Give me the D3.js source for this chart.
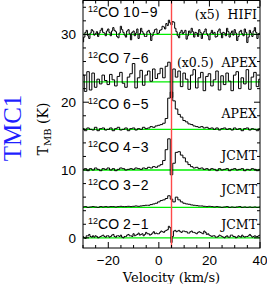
<!DOCTYPE html>
<html>
<head>
<meta charset="utf-8">
<script src="https://cdn.jsdelivr.net/npm/d3@7"></script>
<style>
  body { margin: 0; background: #fff; }
  svg { display: block; }
</style>
</head>
<body>
<div id="chart"></div>
<script>
/**
 * CONSTANTS AND GLOBALS
 * */
const width = 267,
  height = 284,
  margin = { top: 0.5, right: 7, bottom: 36, left: 83 };

/**
 * DATA
 * */
// channel velocities (km/s), 1 km/s channels
const velocity = [-30, -29, -28, -27, -26, -25, -24, -23, -22, -21,
  -20, -19, -18, -17, -16, -15, -14, -13, -12, -11,
  -10, -9, -8, -7, -6, -5, -4, -3, -2, -1,
  0, 1, 2, 3, 4, 5, 6, 7, 8, 9,
  10, 11, 12, 13, 14, 15, 16, 17, 18, 19,
  20, 21, 22, 23, 24, 25, 26, 27, 28, 29,
  30, 31, 32, 33, 34, 35, 36, 37, 38, 39, 40];

// channel velocities (km/s), 0.5 km/s channels
const velocityFine = [-30, -29.5, -29, -28.5, -28, -27.5, -27, -26.5, -26, -25.5,
  -25, -24.5, -24, -23.5, -23, -22.5, -22, -21.5, -21, -20.5,
  -20, -19.5, -19, -18.5, -18, -17.5, -17, -16.5, -16, -15.5,
  -15, -14.5, -14, -13.5, -13, -12.5, -12, -11.5, -11, -10.5,
  -10, -9.5, -9, -8.5, -8, -7.5, -7, -6.5, -6, -5.5,
  -5, -4.5, -4, -3.5, -3, -2.5, -2, -1.5, -1, -0.5,
  0, 0.5, 1, 1.5, 2, 2.5, 3, 3.5, 4, 4.5,
  5, 5.5, 6, 6.5, 7, 7.5, 8, 8.5, 9, 9.5,
  10, 10.5, 11, 11.5, 12, 12.5, 13, 13.5, 14, 14.5,
  15, 15.5, 16, 16.5, 17, 17.5, 18, 18.5, 19, 19.5,
  20, 20.5, 21, 21.5, 22, 22.5, 23, 23.5, 24, 24.5,
  25, 25.5, 26, 26.5, 27, 27.5, 28, 28.5, 29, 29.5,
  30, 30.5, 31, 31.5, 32, 32.5, 33, 33.5, 34, 34.5,
  35, 35.5, 36, 36.5, 37, 37.5, 38, 38.5, 39, 39.5, 40];

const transitions = ["10\u22129", "7\u22126", "6\u22125", "4\u22123", "3\u22122", "2\u22121"];
const telescopes = ["(x5)  HIFI", "(x0.5)  APEX", "APEX", "JCMT", "JCMT", "JCMT"];
const offsets = [30, 23, 16, 10, 4.5, 0];
const vSource = 5;

// T_MB above the baseline of each spectrum (K)
const co109 = [-1.1, -0.4, 0.3, 0.6, -0.2, -0.6, 0.2, 0.7, 0.5, -0.1,
  0.1, 0.4, -0.3, 0.2, 0.6, 0.9, 0.3, 0.2, -0.2, 0.5,
  0.8, 0.3, -0.2, 0.5, 1.0, 0.6, 0.4, -0.3, -0.5, 0.2,
  1.2, 0.7, 0.3, -0.1, -0.4, 0.5, 0.7, 0.1, -0.8, 0.3,
  0.5, -0.2, 0.2, 0.8, -0.6, 0.1, 0.9, 0.4, 0.1, -0.3,
  -0.3, 0.4, 0.6, 0.2, -0.9, -0.2, 0.3, 0.7, 0.8, 0.1,
  0.2, 0.6, 0.7, 1.2, 1.1, 0.8, 1.6, 1.3, 2.1, 1.7,
  1.4, 1.9, 1.8, 0.9, 0.4, -0.2, -0.5, 0.3, 0.6, 0.1,
  0.3, 0.6, -0.7, -0.2, 0.5, 0.2, 0.9, 0.4, -0.4, 0.3,
  0.2, -0.3, 0.7, 0.3, -0.6, 0.1, 0.4, 0.8, 0.1, -0.2,
  -0.8, 0.2, 0.6, 0.1, 0.3, -0.4, -0.3, 0.5, 0.8, 0.2,
  -0.5, 0.3, 0.2, -0.2, 0.9, 0.4, -0.4, 0.2, 0.5, -0.1,
  0.7, 0.2, -0.9, -0.3, 0.4, 0.6, 0.1, -0.2, 0.8, 0.3,
  -1.2, -0.4, 0.6, 0.2, -0.3, 0.5, 1.0, 0.3, -0.6, 0.1, 0.2];
const co76 = [1.0, -1.4, 1.5, -1.2, 1.3, -0.8, 0.4, -0.3, 1.0, 0.2,
  -0.4, 1.1, 0.3, -0.6, 0.8, 1.4, -0.2, -0.8, 0.7, 1.2,
  2.7, -0.9, 0.6, 1.7, -0.5, 1.0, 1.6, 0.1, 1.9, 0.5,
  1.2, 2.0, 0.6, 2.3, 2.9, -2.3, 1.9, 0.7, 1.6, -0.7,
  1.3, 0.4, -1.1, 1.0, 1.8, -0.9, 0.6, 1.4, -1.3, 0.8,
  1.2, -0.6, 0.3, 1.6, -1.2, 0.9, -0.4, 1.3, 0.1, -1.3,
  1.0, 1.5, -1.0, 0.6, -0.3, 1.8, -1.1, 0.7, 1.4, -0.7, 0.4];
const co65 = [0.1, -0.2, 0.2, 0.0, -0.1, 0.3, -0.2, 0.1, 0.2, -0.1,
  0.0, 0.2, -0.2, 0.1, 0.3, -0.1, 0.0, 0.2, -0.2, 0.1,
  0.2, -0.1, 0.1, 0.0, 0.3, 0.1, 0.2, 0.4, 0.3, 0.5,
  0.6, 0.7, 0.9, 1.6, 4.6, 5.5, 4.2, 3.0, 2.2, 1.8,
  1.3, 1.1, 0.8, 0.7, 0.5, 0.4, 0.3, 0.4, 0.2, 0.3,
  0.1, 0.2, 0.0, 0.2, -0.1, 0.1, 0.2, 0.0, 0.1, -0.1,
  0.2, 0.0, 0.1, -0.2, 0.1, 0.2, -0.1, 0.1, 0.0, -0.2, 0.1];
const co43 = [0.1, 0.2, -0.1, 0.2, 0.0, 0.3, 0.1, -0.1, 0.2, 0.1,
  0.3, 0.0, 0.2, -0.1, 0.1, 0.3, 0.2, 0.0, 0.1, 0.2,
  0.1, 0.3, 0.2, 0.1, 0.3, 0.2, 0.4, 0.3, 0.5, 0.4,
  0.6, 0.8, 1.4, 3.0, 4.6, -0.7, 1.0, 2.6, 2.7, 2.2,
  1.8, 1.2, 0.8, 0.5, 0.3, 0.4, 0.2, 0.3, 0.1, 0.2,
  0.0, 0.2, 0.1, -0.1, 0.2, 0.0, 0.1, 0.2, -0.1, 0.1,
  0.2, 0.0, 0.1, 0.2, -0.1, 0.1, 0.0, 0.2, 0.1, -0.1, 0.1];
const co32 = [0.05, 0.1, 0.0, 0.05, 0.1, 0.05, 0.0, 0.1, 0.05, 0.1,
  0.05, 0.1, 0.1, 0.05, 0.1, 0.15, 0.1, 0.1, 0.15, 0.1,
  0.15, 0.2, 0.15, 0.2, 0.25, 0.3, 0.3, 0.4, 0.5, 0.6,
  0.8, 1.0, 1.1, 1.3, 1.7, 1.2, 0.8, 1.5, 1.1, 0.8,
  0.6, 0.5, 0.45, 0.35, 0.3, 0.25, 0.2, 0.2, 0.15, 0.1,
  0.15, 0.1, 0.05, 0.1, 0.05, 0.0, 0.05, 0.1, 0.0, 0.05,
  0.0, 0.05, 0.1, 0.0, 0.05, 0.0, 0.05, 0.0, 0.05, 0.0, 0.05];
const co21 = [0.2, 0.0, -0.1, 0.3, 0.3, 0.5, 0.2, 0.1, 0.3, 0.1,
  0.3, 0.2, 0.0, 0.1, 0.2, 0.3, 0.4, 0.2, 0.1, 0.3,
  0.3, 0.1, 0.2, 0.4, 0.5, 0.2, 0.1, 0.3, 0.3, 0.2,
  0.4, 0.1, 0.0, 0.2, 0.2, 0.4, 0.5, 0.3, 0.3, 0.2,
  0.6, 0.3, 0.4, 0.5, 0.7, 0.4, 0.5, 0.6, 0.3, 0.5,
  0.8, 0.6, 0.6, 0.4, 0.5, 0.7, 0.9, 0.6, 0.7, 0.6,
  0.6, 0.8, 1.0, 0.9, 0.8, 1.0, 1.1, 1.2, 1.7, 1.5,
  -0.7, 0.2, 1.0, 1.1, 0.9, 1.0, 1.1, 0.9, 0.8, 1.0,
  1.0, 0.9, 0.9, 0.7, 0.7, 0.9, 1.0, 0.8, 0.8, 0.7,
  0.6, 0.8, 0.9, 0.8, 0.7, 0.6, 1.0, 0.8, 0.5, 0.6,
  0.4, 0.3, 0.2, 0.3, 0.3, 0.1, 0.1, 0.2, 0.4, 0.3,
  0.2, 0.1, 0.0, 0.2, 0.3, 0.1, 0.1, 0.4, 0.4, 0.2,
  0.2, 0.0, 0.1, 0.3, 0.2, 0.1, 0.4, 0.2, 0.1, 0.2,
  0.2, 0.3, 0.5, 0.3, 0.1, 0.2, 0.3, 0.2, 0.2, 0.3, 0.4];
const spectra = [co109, co76, co65, co43, co32, co21];
const channels = [velocityFine, velocity, velocity, velocity, velocity, velocityFine];

const xTicks = [-20, 0, 20, 40];
const yTicks = [0, 10, 20, 30];

// label placement (px above each baseline)
const leftLabelDy = [17, 19, 20, 18, 17, 9];
const rightLabelDy = [15, 15, 11, 10, 13, 9];

/**
 * SCALES
 * */
const xScale = d3.scaleLinear()
  .domain([-30, 40])
  .range([margin.left, width - margin.right]);

const yScale = d3.scaleLinear()
  .domain([-1.5, 35])
  .range([height - margin.bottom, margin.top]);

const svg = d3.select("#chart")
  .append("svg")
  .attr("width", width)
  .attr("height", height);

svg.append("defs").append("clipPath")
  .attr("id", "plot-clip")
  .append("rect")
  .attr("x", margin.left)
  .attr("y", margin.top)
  .attr("width", width - margin.left - margin.right)
  .attr("height", height - margin.top - margin.bottom);

const plot = svg.append("g").attr("clip-path", "url(#plot-clip)");

// green baselines
plot.selectAll(".baseline")
  .data(offsets)
  .join("line")
  .attr("class", "baseline")
  .attr("x1", xScale(-30))
  .attr("x2", xScale(40))
  .attr("y1", d => yScale(d))
  .attr("y2", d => yScale(d))
  .attr("stroke", "#00ee00")
  .attr("stroke-width", 1.3);

// spectra (histogram style)
plot.selectAll(".spectrum")
  .data(spectra)
  .join("path")
  .attr("class", "spectrum")
  .attr("fill", "none")
  .attr("stroke", "#000")
  .attr("stroke-width", 1)
  .attr("d", (s, i) => d3.line()
    .curve(d3.curveStep)
    .x((d, j) => xScale(channels[i][j]))
    .y(d => yScale(d + offsets[i]))(s));

// source velocity
plot.append("line")
  .attr("x1", xScale(vSource))
  .attr("x2", xScale(vSource))
  .attr("y1", yScale(35))
  .attr("y2", yScale(-1.5))
  .attr("stroke", "#ff4a4a")
  .attr("stroke-width", 1.4);

// frame
svg.append("rect")
  .attr("x", margin.left)
  .attr("y", margin.top)
  .attr("width", width - margin.left - margin.right)
  .attr("height", height - margin.top - margin.bottom)
  .attr("fill", "none")
  .attr("stroke", "#000")
  .attr("stroke-width", 1);

// ticks on all four sides, pointing inward
const ticks = svg.append("g").attr("stroke", "#000").attr("stroke-width", 1);
const yTop = yScale.range()[1], yBot = yScale.range()[0];
const xL = xScale.range()[0], xR = xScale.range()[1];
xScale.ticks(14).forEach(v => {
  const len = xTicks.includes(v) ? 6 : 3;
  ticks.append("line").attr("x1", xScale(v)).attr("x2", xScale(v)).attr("y1", yBot).attr("y2", yBot - len);
  ticks.append("line").attr("x1", xScale(v)).attr("x2", xScale(v)).attr("y1", yTop).attr("y2", yTop + len);
});
yScale.ticks(18).forEach(v => {
  const len = yTicks.includes(v) ? 6 : 3;
  ticks.append("line").attr("y1", yScale(v)).attr("y2", yScale(v)).attr("x1", xL).attr("x2", xL + len);
  ticks.append("line").attr("y1", yScale(v)).attr("y2", yScale(v)).attr("x1", xR).attr("x2", xR - len);
});

// tick labels
svg.append("g")
  .selectAll("text")
  .data(xTicks)
  .join("text")
  .attr("x", d => xScale(d))
  .attr("y", 264.5)
  .attr("text-anchor", "middle")
  .attr("font-family", "Liberation Sans, Arial, sans-serif")
  .attr("font-size", 13.5)
  .text(d => d < 0 ? "\u2212" + Math.abs(d) : d);

svg.append("g")
  .selectAll("text")
  .data(yTicks)
  .join("text")
  .attr("x", 76)
  .attr("y", d => yScale(d))
  .attr("dy", "0.36em")
  .attr("text-anchor", "end")
  .attr("font-family", "Liberation Sans, Arial, sans-serif")
  .attr("font-size", 13.5)
  .text(d => d);

// axis titles
svg.append("text")
  .attr("x", (xL + xR) / 2)
  .attr("y", 281.5)
  .attr("text-anchor", "middle")
  .attr("font-family", "DejaVu Serif, serif")
  .attr("font-size", 13)
  .text("Velocity (km/s)");

const yTitle = svg.append("text")
  .attr("transform", "translate(48,129) rotate(-90)")
  .attr("text-anchor", "middle")
  .attr("font-family", "DejaVu Serif, serif")
  .attr("font-size", 14);
yTitle.append("tspan").text("T");
yTitle.append("tspan").attr("font-size", 10).attr("dy", 3).text("MB");
yTitle.append("tspan").attr("dy", -3).text(" (K)");

svg.append("text")
  .attr("transform", "translate(21,128) rotate(-90)")
  .attr("text-anchor", "middle")
  .attr("font-family", "Liberation Serif, Times New Roman, serif")
  .attr("font-size", 25)
  .attr("fill", "#1f1fff")
  .text("TMC1");

// panel labels
const left = svg.append("g")
  .selectAll("text")
  .data(transitions)
  .join("text")
  .attr("x", 88)
  .attr("y", (d, i) => yScale(offsets[i]) - leftLabelDy[i])
  .attr("font-family", "Liberation Sans, Arial, sans-serif")
  .attr("font-size", 14);
left.append("tspan").attr("font-size", 9).attr("dy", -5).text("12");
left.append("tspan").attr("dy", 5).text("CO ");
left.append("tspan").attr("letter-spacing", 1).text(d => d);

svg.append("g")
  .selectAll("text")
  .data(telescopes)
  .join("text")
  .attr("x", 257)
  .attr("y", (d, i) => yScale(offsets[i]) - rightLabelDy[i])
  .attr("text-anchor", "end")
  .attr("font-family", "DejaVu Serif, serif")
  .attr("font-size", 12.5)
  .style("white-space", "pre")
  .text(d => d);
</script>
</body>
</html>
